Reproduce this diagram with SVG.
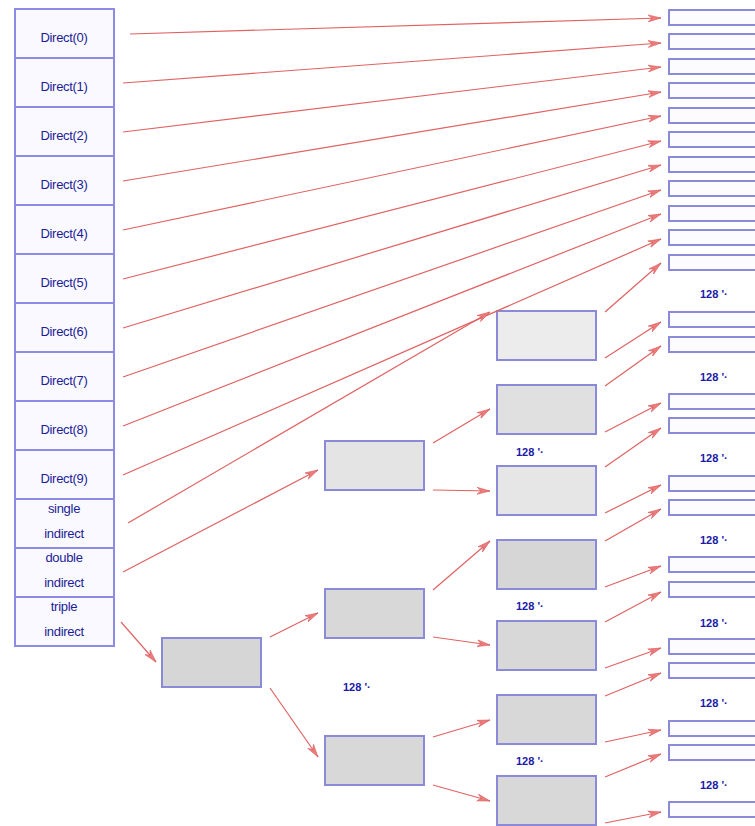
<svg xmlns="http://www.w3.org/2000/svg" width="755" height="826" viewBox="0 0 755 826">
<defs>
<marker id="ah" markerWidth="14" markerHeight="10" refX="13" refY="5" orient="auto" markerUnits="userSpaceOnUse">
<path d="M0,1.5 L13,5 L0,8.5 L4,5 Z" fill="#ec7c7c" stroke="#dc5c5c" stroke-width="0.6"/>
</marker>
</defs>
<style>
.cell{fill:#f9f9ff;stroke:#8c8ce6;stroke-width:2}
.blk{stroke:#8a8ad8;stroke-width:2}
.data{fill:#fcfcff;stroke:#8a8ad8;stroke-width:2}
.t{font-family:"Liberation Sans",Arial,sans-serif;font-size:13px;fill:#1c1c96;text-anchor:middle;letter-spacing:-0.3px}
.n{font-family:"Liberation Sans",Arial,sans-serif;font-size:11px;font-weight:bold;fill:#1a1aa8}
.c line{stroke:#e06262;stroke-width:1.2;marker-end:url(#ah)}
</style>
<rect width="755" height="826" fill="#ffffff"/>
<g id="inode">
<g id="d0"><rect class="cell" x="15" y="9" width="99" height="49"/><text class="t" x="64" y="42">Direct(0)</text></g>
<g id="d1"><rect class="cell" x="15" y="58" width="99" height="49"/><text class="t" x="64" y="91">Direct(1)</text></g>
<g id="d2"><rect class="cell" x="15" y="107" width="99" height="49"/><text class="t" x="64" y="140">Direct(2)</text></g>
<g id="d3"><rect class="cell" x="15" y="156" width="99" height="49"/><text class="t" x="64" y="189">Direct(3)</text></g>
<g id="d4"><rect class="cell" x="15" y="205" width="99" height="49"/><text class="t" x="64" y="238">Direct(4)</text></g>
<g id="d5"><rect class="cell" x="15" y="254" width="99" height="49"/><text class="t" x="64" y="287">Direct(5)</text></g>
<g id="d6"><rect class="cell" x="15" y="303" width="99" height="49"/><text class="t" x="64" y="336">Direct(6)</text></g>
<g id="d7"><rect class="cell" x="15" y="352" width="99" height="49"/><text class="t" x="64" y="385">Direct(7)</text></g>
<g id="d8"><rect class="cell" x="15" y="401" width="99" height="49"/><text class="t" x="64" y="434">Direct(8)</text></g>
<g id="d9"><rect class="cell" x="15" y="450" width="99" height="49"/><text class="t" x="64" y="483">Direct(9)</text></g>
<g id="single"><rect class="cell" x="15" y="499" width="99" height="49"/><text class="t" x="64" y="513">single</text><text class="t" x="64" y="538">indirect</text></g>
<g id="double"><rect class="cell" x="15" y="548" width="99" height="49"/><text class="t" x="64" y="562">double</text><text class="t" x="64" y="587">indirect</text></g>
<g id="triple"><rect class="cell" x="15" y="597" width="99" height="49"/><text class="t" x="64" y="611">triple</text><text class="t" x="64" y="636">indirect</text></g>
</g>
<g id="level1">
<rect class="blk" x="162" y="638" width="99" height="49" fill="#d6d6d6"/>
</g>
<g id="level2">
<rect class="blk" x="325" y="441" width="99" height="49" fill="#e4e4e4"/>
<rect class="blk" x="325" y="589" width="99" height="49" fill="#d8d8d8"/>
<rect class="blk" x="325" y="736" width="99" height="49" fill="#d8d8d8"/>
</g>
<g id="level3">
<rect class="blk" x="497" y="311" width="99" height="49" fill="#ececec"/>
<rect class="blk" x="497" y="385" width="99" height="49" fill="#e0e0e0"/>
<rect class="blk" x="497" y="466" width="99" height="49" fill="#e6e6e6"/>
<rect class="blk" x="497" y="540" width="99" height="49" fill="#d6d6d6"/>
<rect class="blk" x="497" y="621" width="99" height="49" fill="#d8d8d8"/>
<rect class="blk" x="497" y="695" width="99" height="49" fill="#d8d8d8"/>
<rect class="blk" x="497" y="776" width="99" height="49" fill="#d8d8d8"/>
</g>
<g id="data">
<rect class="data" x="669" y="10" width="100" height="15"/>
<rect class="data" x="669" y="34" width="100" height="15"/>
<rect class="data" x="669" y="59" width="100" height="15"/>
<rect class="data" x="669" y="83" width="100" height="15"/>
<rect class="data" x="669" y="108" width="100" height="15"/>
<rect class="data" x="669" y="132" width="100" height="15"/>
<rect class="data" x="669" y="157" width="100" height="15"/>
<rect class="data" x="669" y="181" width="100" height="15"/>
<rect class="data" x="669" y="206" width="100" height="15"/>
<rect class="data" x="669" y="230" width="100" height="15"/>
<rect class="data" x="669" y="255" width="100" height="15"/>
<rect class="data" x="669" y="312" width="100" height="15"/>
<rect class="data" x="669" y="337" width="100" height="15"/>
<rect class="data" x="669" y="394" width="100" height="15"/>
<rect class="data" x="669" y="418" width="100" height="15"/>
<rect class="data" x="669" y="476" width="100" height="15"/>
<rect class="data" x="669" y="500" width="100" height="15"/>
<rect class="data" x="669" y="557" width="100" height="15"/>
<rect class="data" x="669" y="582" width="100" height="15"/>
<rect class="data" x="669" y="639" width="100" height="15"/>
<rect class="data" x="669" y="663" width="100" height="15"/>
<rect class="data" x="669" y="721" width="100" height="15"/>
<rect class="data" x="669" y="745" width="100" height="15"/>
<rect class="data" x="669" y="802" width="100" height="15"/>
</g>
<g id="labels">
<text class="n" x="700" y="298">128 '·</text>
<text class="n" x="700" y="381">128 '·</text>
<text class="n" x="700" y="462">128 '·</text>
<text class="n" x="700" y="544">128 '·</text>
<text class="n" x="700" y="627">128 '·</text>
<text class="n" x="700" y="707">128 '·</text>
<text class="n" x="700" y="789">128 '·</text>
<text class="n" x="516" y="456">128 '·</text>
<text class="n" x="516" y="610">128 '·</text>
<text class="n" x="516" y="765">128 '·</text>
<text class="n" x="343" y="691">128 '·</text>
</g>
<g id="connectors" class="c">
<line x1="130" y1="34" x2="661" y2="18"/>
<line x1="123" y1="83" x2="661" y2="43"/>
<line x1="123" y1="132" x2="661" y2="67"/>
<line x1="123" y1="181" x2="661" y2="92"/>
<line x1="123" y1="230" x2="661" y2="116"/>
<line x1="123" y1="279" x2="661" y2="141"/>
<line x1="123" y1="328" x2="661" y2="165"/>
<line x1="123" y1="377" x2="661" y2="190"/>
<line x1="123" y1="426" x2="661" y2="214"/>
<line x1="123" y1="475" x2="661" y2="239"/>
<line x1="128" y1="523" x2="490" y2="312"/>
<line x1="123" y1="572" x2="318" y2="470"/>
<line x1="121" y1="622" x2="156" y2="662"/>
<line x1="270" y1="637" x2="318" y2="613"/>
<line x1="270" y1="688" x2="318" y2="757"/>
<line x1="433" y1="443" x2="490" y2="409"/>
<line x1="433" y1="490" x2="490" y2="491"/>
<line x1="433" y1="590" x2="490" y2="541"/>
<line x1="433" y1="637" x2="490" y2="645"/>
<line x1="433" y1="737" x2="490" y2="720"/>
<line x1="433" y1="785" x2="490" y2="801"/>
<line x1="605" y1="312" x2="661" y2="263"/>
<line x1="605" y1="358" x2="661" y2="322"/>
<line x1="605" y1="386" x2="661" y2="346"/>
<line x1="605" y1="432" x2="661" y2="403"/>
<line x1="605" y1="467" x2="661" y2="428"/>
<line x1="605" y1="513" x2="661" y2="485"/>
<line x1="605" y1="541" x2="661" y2="509"/>
<line x1="605" y1="587" x2="661" y2="566"/>
<line x1="605" y1="622" x2="661" y2="592"/>
<line x1="605" y1="668" x2="661" y2="648"/>
<line x1="605" y1="696" x2="661" y2="673"/>
<line x1="605" y1="742" x2="661" y2="730"/>
<line x1="605" y1="777" x2="661" y2="754"/>
<line x1="605" y1="823" x2="661" y2="812"/>
</g>
</svg>
